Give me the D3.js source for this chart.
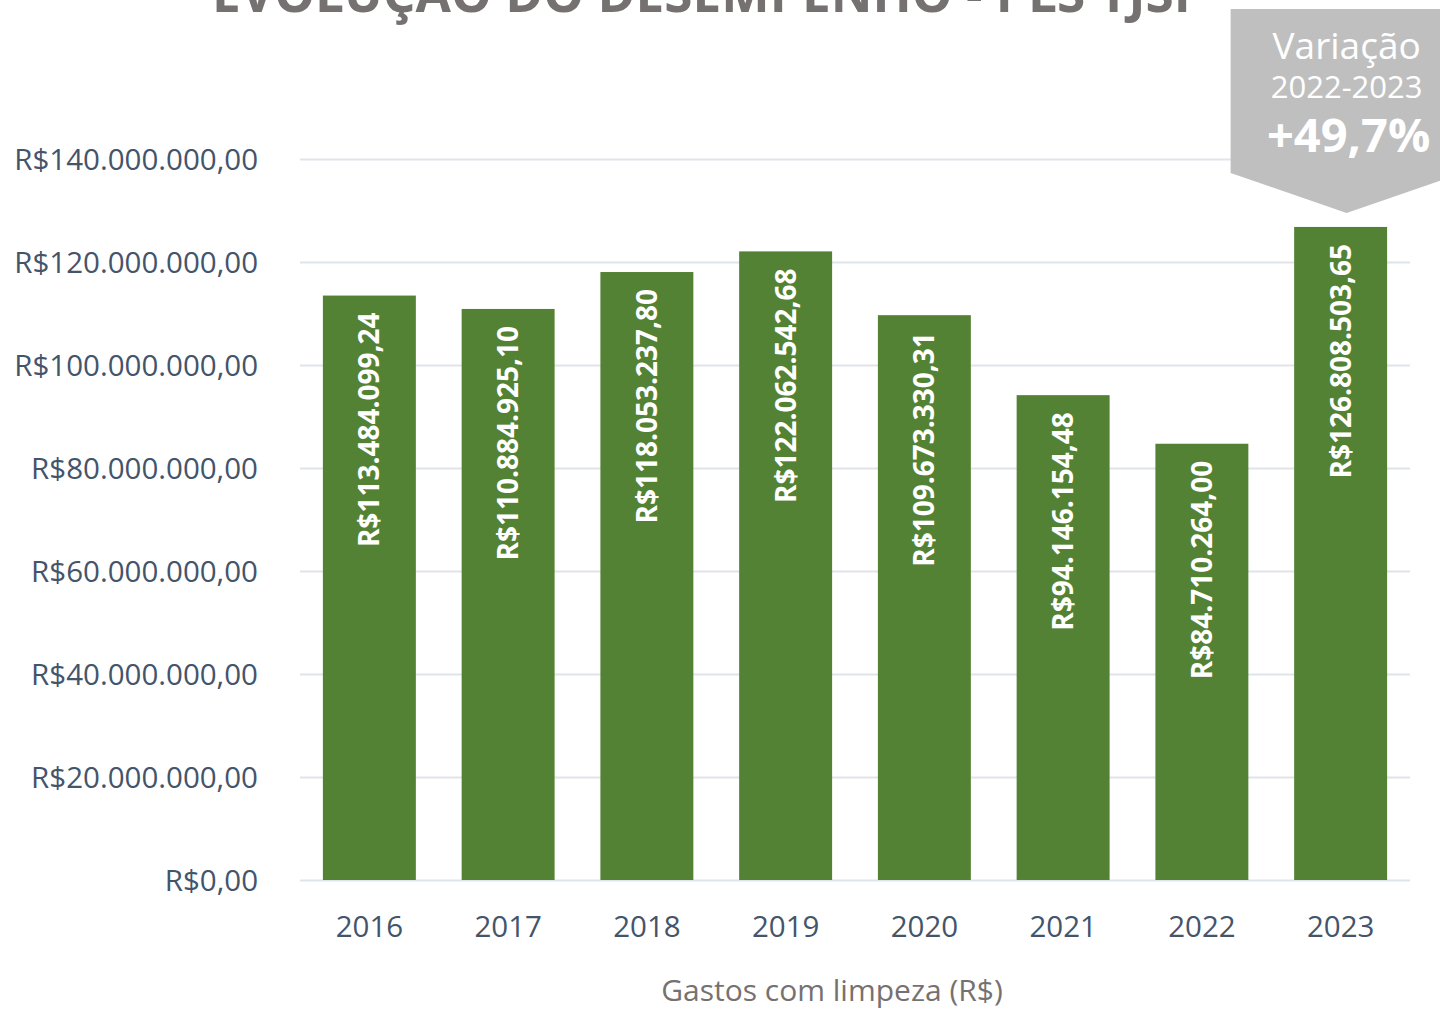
<!DOCTYPE html>
<html><head><meta charset="utf-8">
<script src="https://cdn.jsdelivr.net/npm/d3@7"></script>
<style>
html,body{margin:0;padding:0;background:#fff;}
svg{display:block;}
</style></head>
<body>
<svg id="c" width="1440" height="1010"></svg>
<script>
const categories = ["2016","2017","2018","2019","2020","2021","2022","2023"];
const values = [113484099.24,110884925.10,118053237.80,122062542.68,109673330.31,94146154.48,84710264.00,126808503.65];
const valueLabels = ["R$113.484.099,24","R$110.884.925,10","R$118.053.237,80","R$122.062.542,68","R$109.673.330,31","R$94.146.154,48","R$84.710.264,00","R$126.808.503,65"];
const yTicks = [0,20000000,40000000,60000000,80000000,100000000,120000000,140000000];
const titleText = "EVOLUÇÃO DO DESEMPENHO - PLS TJSP";
const axisTitle = "Gastos com limpeza (R$)";
const calloutLines = ["Variação","2022-2023","+49,7%"];

const svg = d3.select("#c");
const font = "'Open Sans', 'Noto Sans', sans-serif";
const L = 300, R = 1410, T = 159, B = 880;

const x = d3.scaleBand().domain(categories).range([L, R]).paddingInner(0.33).paddingOuter(0.165);
const y = d3.scaleLinear().domain([0, 140000000]).range([B, T]);

const fmt = v => "R$" + d3.format(",.2f")(v).replace(/,/g, "#").replace(".", ",").replace(/#/g, ".");

// gridlines
const yAxis = d3.axisLeft(y).tickValues(yTicks).tickSize(-(R - L)).tickFormat(fmt);
const gy = svg.append("g").attr("transform", `translate(${L},0)`).call(yAxis);
gy.select(".domain").remove();
gy.selectAll(".tick line").attr("stroke", "#DFE3EA").attr("stroke-width", 2);
gy.selectAll(".tick text").attr("x", -42).attr("fill", "#44546A")
  .style("font-family", font).style("font-size", "29.5px").attr("dy", "0.35em");

// bars
svg.append("g").selectAll("rect").data(values).join("rect")
  .attr("x", (d, i) => x(categories[i]))
  .attr("width", x.bandwidth())
  .attr("y", d => y(d))
  .attr("height", d => B - y(d))
  .attr("fill", "#548235");

// bar labels
svg.append("g").selectAll("text").data(values).join("text")
  .attr("transform", (d, i) => `translate(${x(categories[i]) + x.bandwidth() / 2},${y(d) + 17}) rotate(-90)`)
  .attr("text-anchor", "end")
  .attr("dy", "0.36em")
  .attr("fill", "#fff")
  .style("font-family", font).style("font-weight", "700").style("font-size", "28px")
  .text((d, i) => valueLabels[i]);

// x axis
const xAxis = d3.axisBottom(x).tickSize(0).tickPadding(36);
const gx = svg.append("g").attr("transform", `translate(0,${B})`).call(xAxis);
gx.select(".domain").remove();
gx.selectAll(".tick text").attr("fill", "#44546A")
  .style("font-family", font).style("font-size", "29.5px");

// axis title
svg.append("text").attr("x", 832).attr("y", 1001).attr("text-anchor", "middle")
  .attr("fill", "#767171").style("font-family", font).style("font-size", "30px").text(axisTitle);

// title (partially cropped, as in the reference)
svg.append("text").attr("x", 212).attr("y", 12)
  .attr("textLength", 994).attr("lengthAdjust", "spacingAndGlyphs")
  .attr("fill", "#767171").style("font-family", font).style("font-weight", "700").style("font-size", "52px")
  .text(titleText);

// callout
const cx = x("2023") + x.bandwidth() / 2 + 6;
const pts = [[cx - 116, 9], [cx + 116, 9], [cx + 116, 173], [cx, 213], [cx - 116, 173]];
svg.append("path").attr("d", d3.line()(pts) + "Z").attr("fill", "#BFBFBF");
const ct = svg.append("text").attr("fill", "#fff").style("font-family", font).attr("text-anchor", "middle");
ct.append("tspan").attr("x", cx).attr("y", 59).style("font-size", "37px").text(calloutLines[0]);
ct.append("tspan").attr("x", cx).attr("y", 98).style("font-size", "31px").text(calloutLines[1]);
ct.append("tspan").attr("x", cx + 2).attr("y", 152).style("font-size", "47px").style("font-weight", "700").text(calloutLines[2]);
</script>
</body></html>
